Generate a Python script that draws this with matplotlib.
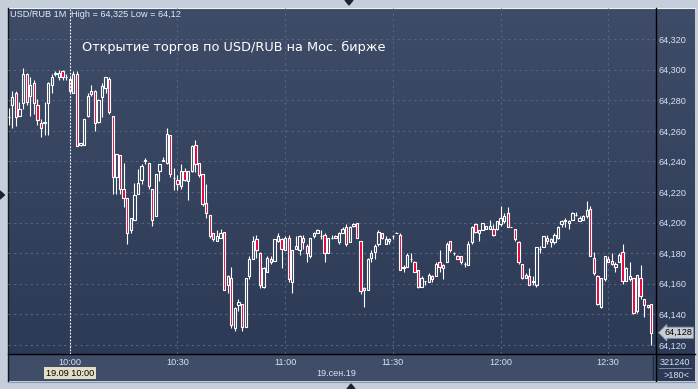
import numpy as np
import matplotlib
matplotlib.use("Agg")
import matplotlib.pyplot as plt
from matplotlib.colors import LinearSegmentedColormap
from matplotlib.transforms import blended_transform_factory

# ---- data: 1-minute USD/RUB candles, 09:43 .. 12:42 ----
start_minute = -17          # 09:43 relative to 10:00
opens = [
    64.269, 64.277, 64.285, 64.270, 64.278, 64.297, 64.283, 64.291, 64.277, 64.265,
    64.265, 64.278, 64.290, 64.297, 64.295, 64.299, 64.295, 64.294, 64.285, 64.297,
    64.251, 64.251, 64.270, 64.284, 64.286, 64.266, 64.282, 64.288, 64.294, 64.270,
    64.230, 64.244, 64.222, 64.216, 64.195, 64.202, 64.219, 64.228, 64.240, 64.239,
    64.222, 64.204, 64.234, 64.240, 64.239, 64.257, 64.229, 64.228, 64.224, 64.234,
    64.227, 64.234, 64.251, 64.239, 64.232, 64.213, 64.205, 64.193, 64.188, 64.190,
    64.194, 64.159, 64.164, 64.131, 64.146, 64.147, 64.132, 64.165, 64.176, 64.189,
    64.180, 64.158, 64.168, 64.176, 64.175, 64.188, 64.189, 64.182, 64.190, 64.161,
    64.183, 64.182, 64.190, 64.185, 64.178, 64.191, 64.193, 64.191, 64.192, 64.180,
    64.190, 64.191, 64.187, 64.193, 64.197, 64.187, 64.198, 64.200, 64.188, 64.156,
    64.156, 64.177, 64.181, 64.186, 64.193, 64.186, 64.188, 64.191, 64.193, 64.192,
    64.170, 64.171, 64.176, 64.174, 64.169, 64.158, 64.162, 64.161, 64.165, 64.165,
    64.174, 64.170, 64.174, 64.188, 64.180, 64.178, 64.178, 64.173, 64.172, 64.187,
    64.199, 64.193, 64.195, 64.196, 64.196, 64.196, 64.196, 64.199, 64.201, 64.206,
    64.197, 64.196, 64.187, 64.173, 64.164, 64.165, 64.161, 64.159, 64.183, 64.184,
    64.190, 64.187, 64.187, 64.190, 64.199, 64.202, 64.200, 64.202, 64.205, 64.201,
    64.202, 64.204, 64.209, 64.177, 64.165, 64.145, 64.163, 64.176, 64.175, 64.171,
    64.174, 64.181, 64.162, 64.163, 64.164, 64.142, 64.164, 64.150, 64.145, 64.147,
]
highs = [
    64.275, 64.286, 64.286, 64.279, 64.301, 64.298, 64.295, 64.293, 64.281, 64.268,
    64.279, 64.292, 64.297, 64.299, 64.300, 64.300, 64.297, 64.295, 64.299, 64.299,
    64.252, 64.268, 64.285, 64.290, 64.287, 64.281, 64.291, 64.295, 64.295, 64.270,
    64.245, 64.244, 64.239, 64.216, 64.203, 64.226, 64.235, 64.238, 64.242, 64.239,
    64.222, 64.232, 64.238, 64.243, 64.262, 64.257, 64.236, 64.231, 64.238, 64.236,
    64.234, 64.251, 64.254, 64.239, 64.232, 64.225, 64.205, 64.193, 64.195, 64.196,
    64.194, 64.166, 64.171, 64.145, 64.150, 64.147, 64.164, 64.178, 64.191, 64.192,
    64.181, 64.171, 64.178, 64.178, 64.189, 64.193, 64.190, 64.191, 64.192, 64.182,
    64.191, 64.192, 64.192, 64.186, 64.190, 64.194, 64.196, 64.195, 64.193, 64.190,
    64.192, 64.192, 64.194, 64.197, 64.199, 64.198, 64.200, 64.200, 64.188, 64.158,
    64.177, 64.182, 64.186, 64.195, 64.193, 64.191, 64.190, 64.192, 64.194, 64.193,
    64.172, 64.180, 64.180, 64.175, 64.169, 64.165, 64.162, 64.167, 64.166, 64.174,
    64.182, 64.173, 64.187, 64.188, 64.181, 64.179, 64.178, 64.174, 64.188, 64.198,
    64.200, 64.195, 64.200, 64.198, 64.202, 64.199, 64.201, 64.211, 64.206, 64.210,
    64.197, 64.196, 64.188, 64.173, 64.167, 64.170, 64.165, 64.184, 64.185, 64.191,
    64.192, 64.190, 64.193, 64.198, 64.202, 64.203, 64.202, 64.207, 64.207, 64.204,
    64.205, 64.214, 64.211, 64.181, 64.166, 64.164, 64.178, 64.178, 64.180, 64.174,
    64.180, 64.186, 64.171, 64.174, 64.164, 64.166, 64.172, 64.150, 64.146, 64.147,
]
lows = [
    64.264, 64.262, 64.263, 64.270, 64.274, 64.277, 64.270, 64.271, 64.264, 64.256,
    64.257, 64.257, 64.285, 64.296, 64.293, 64.293, 64.293, 64.285, 64.285, 64.250,
    64.250, 64.251, 64.269, 64.283, 64.260, 64.265, 64.269, 64.285, 64.271, 64.219,
    64.219, 64.219, 64.210, 64.186, 64.193, 64.202, 64.219, 64.225, 64.238, 64.222,
    64.198, 64.204, 64.227, 64.240, 64.238, 64.230, 64.221, 64.221, 64.222, 64.227,
    64.215, 64.233, 64.233, 64.230, 64.211, 64.203, 64.190, 64.188, 64.188, 64.190,
    64.156, 64.154, 64.131, 64.129, 64.142, 64.129, 64.132, 64.163, 64.176, 64.177,
    64.157, 64.157, 64.168, 64.173, 64.175, 64.187, 64.170, 64.182, 64.161, 64.154,
    64.183, 64.179, 64.183, 64.174, 64.177, 64.190, 64.193, 64.189, 64.174, 64.180,
    64.189, 64.190, 64.186, 64.193, 64.185, 64.187, 64.197, 64.190, 64.153, 64.145,
    64.156, 64.174, 64.176, 64.185, 64.189, 64.186, 64.186, 64.189, 64.193, 64.169,
    64.168, 64.171, 64.174, 64.168, 64.157, 64.158, 64.159, 64.161, 64.161, 64.165,
    64.168, 64.163, 64.174, 64.181, 64.179, 64.176, 64.173, 64.171, 64.172, 64.186,
    64.193, 64.188, 64.195, 64.196, 64.196, 64.191, 64.195, 64.198, 64.200, 64.197,
    64.197, 64.188, 64.173, 64.163, 64.164, 64.159, 64.159, 64.158, 64.180, 64.184,
    64.186, 64.184, 64.186, 64.189, 64.197, 64.197, 64.196, 64.202, 64.204, 64.201,
    64.202, 64.203, 64.178, 64.166, 64.146, 64.144, 64.162, 64.174, 64.172, 64.168,
    64.174, 64.160, 64.162, 64.162, 64.140, 64.141, 64.150, 64.138, 64.144, 64.120,
]
closes = [
    64.269, 64.282, 64.269, 64.274, 64.297, 64.279, 64.290, 64.278, 64.267, 64.262,
    64.266, 64.291, 64.295, 64.298, 64.298, 64.295, 64.295, 64.286, 64.297, 64.250,
    64.252, 64.268, 64.283, 64.286, 64.265, 64.280, 64.289, 64.295, 64.272, 64.230,
    64.245, 64.222, 64.216, 64.193, 64.203, 64.218, 64.226, 64.237, 64.241, 64.224,
    64.202, 64.232, 64.238, 64.241, 64.258, 64.232, 64.229, 64.225, 64.234, 64.228,
    64.234, 64.250, 64.238, 64.231, 64.212, 64.206, 64.191, 64.189, 64.191, 64.193,
    64.156, 64.165, 64.133, 64.144, 64.148, 64.132, 64.164, 64.176, 64.188, 64.182,
    64.159, 64.170, 64.177, 64.174, 64.189, 64.191, 64.183, 64.190, 64.163, 64.182,
    64.185, 64.191, 64.187, 64.180, 64.190, 64.193, 64.195, 64.191, 64.180, 64.190,
    64.190, 64.190, 64.193, 64.196, 64.186, 64.197, 64.199, 64.190, 64.155, 64.157,
    64.176, 64.180, 64.185, 64.194, 64.190, 64.189, 64.189, 64.191, 64.193, 64.169,
    64.171, 64.179, 64.176, 64.168, 64.158, 64.164, 64.162, 64.166, 64.163, 64.173,
    64.171, 64.172, 64.186, 64.182, 64.180, 64.176, 64.174, 64.173, 64.186, 64.197,
    64.194, 64.195, 64.200, 64.198, 64.198, 64.192, 64.201, 64.203, 64.204, 64.197,
    64.197, 64.189, 64.174, 64.164, 64.166, 64.159, 64.162, 64.184, 64.183, 64.191,
    64.188, 64.189, 64.192, 64.197, 64.201, 64.201, 64.201, 64.206, 64.205, 64.203,
    64.204, 64.208, 64.178, 64.167, 64.147, 64.164, 64.178, 64.174, 64.173, 64.173,
    64.179, 64.162, 64.170, 64.165, 64.141, 64.166, 64.152, 64.146, 64.146, 64.128,
]
time_ticks = [0, 30, 60, 90, 120, 150]
time_labels = ["10:00", "10:30", "11:00", "11:30", "12:00", "12:30"]
price_ticks = [64.12, 64.14, 64.16, 64.18, 64.20, 64.22, 64.24, 64.26, 64.28, 64.30, 64.32]

W, H = 698, 389
SMALL = "Liberation Sans"
LBL = "#d6e1f2"

fig = plt.figure(figsize=(W / 100, H / 100), dpi=100, facecolor="#c5cedb")

# background / frame axes in pixel coords
bg = fig.add_axes([0, 0, 1, 1])
bg.set_xlim(0, W)
bg.set_ylim(H, 0)
bg.axis("off")
cmap = LinearSegmentedColormap.from_list("panel", ["#3e4c68", "#2c3955"])
grad = np.linspace(0, 1, 256).reshape(-1, 1)
bg.imshow(grad, cmap=cmap, extent=(8, 695, 381, 8), aspect="auto", origin="upper")
bg.add_patch(plt.Rectangle((8, 354), 648, 27, fc="#3f4d68", ec="none"))
bg.plot([8, 695], [7.5, 7.5], color="#eef2f7", lw=0.8)
bg.plot([8, 8], [8, 381], color="#111820", lw=1.0)
bg.plot([656, 656], [8, 381], color="black", lw=1.0)
bg.plot([8, 695], [354, 354], color="black", lw=1.0)
bg.plot([652.5, 652.5], [356, 379], color="#1f2a3c", lw=1.0)
bg.plot([659, 691], [368, 368], color="#7f8ca2", lw=0.7)
bg.plot([8, 695], [381.5, 381.5], color="#8c98aa", lw=0.8)
bg.fill([345, 353, 349], [0, 0, 5], color="#1b2333")
bg.fill([0, 0, 4.5], [191, 199, 195], color="#1b2333")
bg.fill([347, 355, 351], [389, 389, 384], color="#1b2333")

bg.text(10, 14.5, "USD/RUB 1M", family=SMALL, fontsize=6.6, color="#e6ecf6", va="center")
bg.text(71, 14.5, "High = 64,325 Low = 64,12", family=SMALL, fontsize=6.6, color="#e6ecf6", va="center")
bg.text(82, 47, "Открытие торгов по USD/RUB на Мос. бирже", family="DejaVu Sans",
        fontsize=9.3, color="white", va="center")
bg.text(336, 374, "19.сен.19", family=SMALL, fontsize=6.6, color=LBL, ha="center", va="center")
bg.text(675, 362.5, "321240", family=SMALL, fontsize=6.6, color=LBL, ha="center", va="center")
bg.text(676, 375, ">180<", family=SMALL, fontsize=6.6, color=LBL, ha="center", va="center")

# main chart axes
ax = fig.add_axes([8 / W, (H - 354) / H, 648 / W, 346 / H])
ax.set_facecolor("none")
for s in ax.spines.values():
    s.set_visible(False)
ax.set_xlim(-17.2, 163.3)
ax.set_ylim(64.1141, 64.3403)

ax.set_xticks(time_ticks)
ax.set_xticklabels(time_labels, family=SMALL)
ax.yaxis.tick_right()
ax.set_yticks(price_ticks)
ax.set_yticklabels([f"{p:.3f}".replace(".", ",") for p in price_ticks], family=SMALL)
ax.tick_params(axis="x", length=0, pad=3.2, labelsize=6.6, labelcolor=LBL)
ax.tick_params(axis="y", length=0, pad=1.6, labelsize=6.6, labelcolor=LBL)
ax.grid(True, color="#56657f", linestyle=(0, (2, 3)), linewidth=0.8)
ax.set_axisbelow(True)

o = np.array(opens)
h = np.array(highs)
l = np.array(lows)
c = np.array(closes)
x = np.arange(len(c)) + start_minute
top = np.maximum(o, c)
bot = np.minimum(o, c)
ax.vlines(x, top, h, color="white", lw=0.8, zorder=3)
ax.vlines(x, l, bot, color="white", lw=0.8, zorder=3)
colors = np.where(c < o, "#e4003a", "none")
ax.bar(x, top - bot, bottom=bot, width=0.64, facecolor=colors, edgecolor="white",
       linewidth=0.8, zorder=4)

# cursor at 10:00
ax.axvline(0, color="white", linestyle=(0, (1.5, 1.5)), lw=0.8, zorder=5)
ax.text(0, -0.055, "19.09 10:00", transform=blended_transform_factory(ax.transData, ax.transAxes),
        family=SMALL, fontsize=6.6, color="black", ha="center", va="center", clip_on=False,
        bbox=dict(boxstyle="square,pad=0.2", fc="#e2dfc6", ec="none"))

# last price tag
ax.text(1.013, c[-1], f"{c[-1]:.3f}".replace(".", ","),
        transform=blended_transform_factory(ax.transAxes, ax.transData),
        family=SMALL, fontsize=6.6, color="black", ha="left", va="center", clip_on=False,
        bbox=dict(boxstyle="larrow,pad=0.12", fc="#c9cdd4", ec="#8a94a4", lw=0.6))

fig.savefig("out.png", dpi=100, facecolor=fig.get_facecolor())
